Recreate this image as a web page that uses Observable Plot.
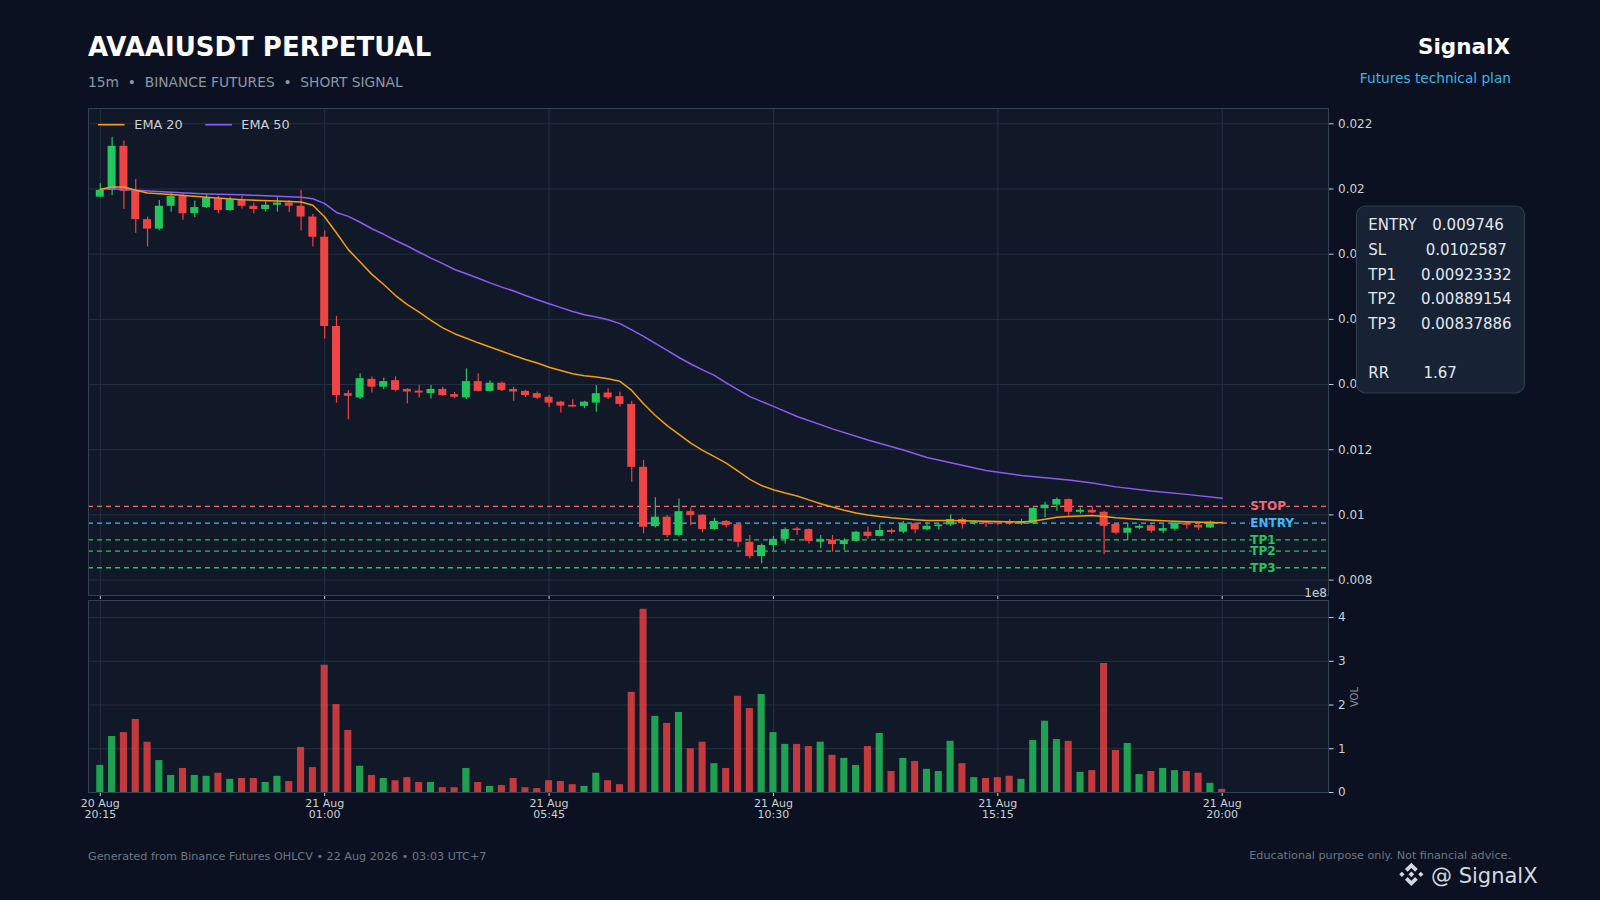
<!DOCTYPE html>
<html><head><meta charset="utf-8">
<script src="https://cdn.jsdelivr.net/npm/d3@7"></script>
<script src="https://cdn.jsdelivr.net/npm/@observablehq/plot@0.6"></script>
<style>
html,body{margin:0;padding:0;background:#0b1120;}
#root{position:relative;width:1600px;height:900px;overflow:hidden;background:#0b1120;font-family:"DejaVu Sans",sans-serif;}
#root > svg{position:absolute;left:0;}
</style></head><body><div id="root"></div>
<script>
// ---- data (15m candles, 20 Aug 20:15 -> 21 Aug 20:00) ----
const opens  = [0.01975,0.01996,0.02131,0.01993,0.01906,0.01877,0.01947,0.01977,0.01924,0.01943,
0.01970,0.01934,0.01967,0.01947,0.01937,0.01950,0.01957,0.01947,0.01914,0.01852,
0.01578,0.01372,0.01359,0.01416,0.01392,0.01412,0.01385,0.01380,0.01372,0.01385,
0.01369,0.01359,0.01409,0.01379,0.01404,0.01385,0.01379,0.01372,0.01361,0.01346,
0.01336,0.01333,0.01343,0.01374,0.01363,0.01339,0.01146,0.00964,0.00993,0.00937,
0.01010,0.00999,0.00955,0.00980,0.00970,0.00916,0.00872,0.00906,0.00925,0.00957,
0.00955,0.00916,0.00922,0.00909,0.00919,0.00947,0.00934,0.00952,0.00947,0.00973,
0.00954,0.00964,0.00969,0.00986,0.00973,0.00978,0.00976,0.00978,0.00972,0.00973,
0.01019,0.01030,0.01047,0.01008,0.01014,0.01008,0.00971,0.00944,0.00959,0.00967,
0.00950,0.00956,0.00975,0.00968,0.00960,0.00977];
const highs  = [0.02017,0.02159,0.02147,0.02029,0.01914,0.01965,0.01987,0.01985,0.01963,0.01983,
0.01977,0.01975,0.01977,0.01957,0.01960,0.01973,0.01965,0.01996,0.01922,0.01871,
0.01609,0.01382,0.01433,0.01423,0.01420,0.01424,0.01387,0.01397,0.01397,0.01392,
0.01376,0.01448,0.01433,0.01412,0.01408,0.01392,0.01382,0.01377,0.01366,0.01349,
0.01353,0.01349,0.01397,0.01387,0.01377,0.01349,0.01167,0.01053,0.00998,0.01049,
0.01021,0.01001,0.00990,0.00983,0.00973,0.00937,0.00911,0.00934,0.00960,0.00962,
0.00957,0.00937,0.00937,0.00927,0.00950,0.00964,0.00970,0.00957,0.00980,0.00976,
0.00976,0.00974,0.01000,0.00990,0.00983,0.00978,0.00980,0.00985,0.00987,0.01023,
0.01039,0.01052,0.01049,0.01021,0.01024,0.01011,0.00973,0.00974,0.00970,0.00970,
0.00970,0.00980,0.00978,0.00973,0.00981,0.00978];
const lows   = [0.01974,0.01980,0.01937,0.01864,0.01822,0.01872,0.01929,0.01904,0.01912,0.01940,
0.01924,0.01932,0.01939,0.01924,0.01929,0.01929,0.01928,0.01871,0.01822,0.01540,
0.01343,0.01292,0.01354,0.01374,0.01384,0.01377,0.01341,0.01359,0.01356,0.01363,
0.01357,0.01354,0.01377,0.01377,0.01379,0.01349,0.01360,0.01354,0.01329,0.01313,
0.01329,0.01326,0.01315,0.01354,0.01331,0.01100,0.00942,0.00960,0.00930,0.00932,
0.00967,0.00945,0.00953,0.00960,0.00899,0.00865,0.00850,0.00889,0.00911,0.00937,
0.00911,0.00897,0.00886,0.00891,0.00916,0.00925,0.00932,0.00940,0.00942,0.00942,
0.00951,0.00954,0.00965,0.00957,0.00968,0.00961,0.00968,0.00968,0.00968,0.00970,
0.00991,0.01011,0.00996,0.01002,0.01004,0.00878,0.00939,0.00922,0.00955,0.00944,
0.00942,0.00950,0.00957,0.00952,0.00958,0.00971];
const closes = [0.01996,0.02131,0.01993,0.01906,0.01877,0.01947,0.01977,0.01924,0.01943,0.01973,
0.01934,0.01967,0.01947,0.01937,0.01950,0.01957,0.01947,0.01914,0.01852,0.01578,
0.01366,0.01364,0.01418,0.01392,0.01409,0.01382,0.01377,0.01374,0.01385,0.01366,
0.01361,0.01409,0.01379,0.01404,0.01382,0.01377,0.01366,0.01358,0.01343,0.01334,
0.01331,0.01346,0.01372,0.01359,0.01339,0.01146,0.00962,0.00993,0.00937,0.01010,
0.00998,0.00955,0.00980,0.00967,0.00916,0.00872,0.00906,0.00925,0.00955,0.00952,
0.00919,0.00925,0.00909,0.00921,0.00947,0.00934,0.00952,0.00946,0.00973,0.00954,
0.00965,0.00969,0.00986,0.00973,0.00978,0.00973,0.00972,0.00972,0.00979,0.01020,
0.01030,0.01047,0.01008,0.01014,0.01006,0.00965,0.00944,0.00959,0.00965,0.00950,
0.00958,0.00975,0.00968,0.00960,0.00978,0.00974];
// volume in units of 1e8
const volumes = [0.62,1.28,1.37,1.67,1.15,0.73,0.39,0.55,0.39,0.37,
0.44,0.30,0.32,0.32,0.23,0.37,0.25,1.03,0.57,2.91,
2.01,1.42,0.60,0.39,0.32,0.27,0.34,0.23,0.23,0.11,
0.11,0.55,0.23,0.14,0.16,0.32,0.11,0.09,0.27,0.25,
0.18,0.14,0.44,0.27,0.18,2.29,4.19,1.74,1.58,1.83,
1.00,1.15,0.66,0.55,2.20,1.92,2.24,1.37,1.10,1.10,
1.05,1.15,0.85,0.78,0.62,1.05,1.35,0.48,0.78,0.71,
0.53,0.48,1.17,0.66,0.34,0.32,0.34,0.37,0.30,1.19,
1.63,1.21,1.17,0.46,0.50,2.95,0.96,1.12,0.41,0.48,
0.55,0.50,0.48,0.44,0.21,0.07];

const ema20Idx = [0,1,2,3,4,6,9,12,15,17,
18,19,20,21,22,23,24,25,26,27,28,29,30,31,32,33,34,35,36,37,38,39,40,41,42,43,44,45,46,47,48,49,50,51,52,53,54,55,56,57,58,59,60,61,62,63,64,65,66,67,68,69,70,
72,74,76,78,79,80,81,82,84,85,86,88,90,92,94,95];
const ema20Val = [0.01999,0.02006,0.02006,0.01996,0.01988,0.01983,0.01975,0.01967,0.01963,0.0196,
0.0195,0.01914,0.01865,0.01814,0.01776,0.01738,0.01707,0.01673,0.01645,0.01622,
0.01597,0.01574,0.01556,0.01542,0.01528,0.01515,0.01502,0.01489,0.01477,0.01466,
0.01453,0.01443,0.01433,0.01427,0.01423,0.01418,0.0141,0.01382,0.01341,0.01305,
0.01274,0.01247,0.0122,0.01198,0.01179,0.01159,0.01134,0.01109,0.0109,0.01077,
0.01067,0.01058,0.01046,0.01034,0.01024,0.01014,0.01006,0.01,0.00995,0.00991,
0.00988,0.00985,0.00983,
0.00983,0.00981,0.0098,0.00978,0.00981,0.00987,0.00993,0.00995,0.00998,0.00995,0.00991,0.00986,0.00982,0.00979,0.00977,0.00976];
const ema50Idx = [0,1,3,6,9,12,15,17,
18,19,20,21,22,23,24,25,26,27,28,29,30,31,32,33,34,35,36,37,38,39,40,41,42,43,44,45,46,47,48,49,50,51,52,53,
55,57,59,62,65,68,70,75,78,82,84,86,89,92,95];
const ema50Val = [0.01999,0.02001,0.01996,0.0199,0.01985,0.01982,0.01978,0.01975,
0.0197,0.01955,0.01928,0.01916,0.01898,0.01878,0.01861,0.01842,0.01825,0.01806,
0.01788,0.01771,0.01753,0.0174,0.01726,0.01712,0.01699,0.01687,0.01673,0.0166,
0.01648,0.01636,0.01624,0.01614,0.01607,0.01599,0.01587,0.01568,0.01548,0.01526,
0.01505,0.01483,0.01463,0.01445,0.01428,0.01405,
0.01363,0.01333,0.01302,0.01264,0.0123,0.01199,0.01176,0.01136,0.01121,0.01107,0.01098,0.01086,0.01073,0.01063,0.01051];

const tickIdx = [0,19,38,57,76,95];
const tickLabels = ["20 Aug\n20:15","21 Aug\n01:00","21 Aug\n05:45","21 Aug\n10:30","21 Aug\n15:15","21 Aug\n20:00"];
const priceTicks = [0.008,0.010,0.012,0.014,0.016,0.018,0.020,0.022];
const volTicks = [0,1,2,3,4];

const levelNames  = ["STOP","ENTRY","TP1","TP2","TP3"];
const levelValues = [0.0102587,0.009746,0.00923332,0.00889154,0.00837886];
const levelColors = ["#f2697a","#38bdf8","#22c55e","#22c55e","#22c55e"];
const boxLabels = ["ENTRY","SL","TP1","TP2","TP3","RR"];
const boxValues = ["0.009746","0.0102587","0.00923332","0.00889154","0.00837886","1.67"];

// ---- build ----
const UP = "#22c55e", DOWN = "#ef4444";
const candles = opens.map((o,i)=>({i, open:o, high:highs[i], low:lows[i], close:closes[i], vol:volumes[i], col: closes[i] >= o ? UP : DOWN}));
const ema20 = ema20Idx.map((i,k)=>({i, v:ema20Val[k]}));
const ema50 = ema50Idx.map((i,k)=>({i, v:ema50Val[k]}));
const levels = levelNames.map((n,k)=>({name:n, value:levelValues[k], color:levelColors[k]}));

const GRID = "#243043", FRAME = "#334155", TXT = "#c9d1d9", AXBG = "#111827";
const xDom = [-1, 104];
const baseStyle = {background:"transparent", color:TXT, fontFamily:"DejaVu Sans", fontSize:"12px", overflow:"visible"};
const half = 0.34;

const pricePlot = Plot.plot({
  width:1600, height:600, marginLeft:88, marginRight:272, marginTop:108, marginBottom:5,
  style: baseStyle,
  color: {type:"identity"},
  x: {domain:xDom, axis:null},
  y: {domain:[0.007527,0.02247], axis:null},
  marks: [
    Plot.frame({fill:AXBG, stroke:null}),
    Plot.gridX(tickIdx, {stroke:GRID, strokeOpacity:1}),
    Plot.gridY(priceTicks, {stroke:GRID, strokeOpacity:1}),
    Plot.ruleY(levels, {y:"value", stroke:"color", strokeWidth:1.3, strokeDasharray:"5,4"}),
    Plot.ruleX(candles, {x:"i", y1:"low", y2:"high", stroke:"col", strokeWidth:1.2}),
    Plot.rect(candles, {x1:d=>d.i-half, x2:d=>d.i+half, y1:"open", y2:"close", fill:"col"}),
    Plot.line(ema50, {x:"i", y:"v", stroke:"#8b5cf6", strokeWidth:1.5}),
    Plot.line(ema20, {x:"i", y:"v", stroke:"#f59e0b", strokeWidth:1.5}),
    Plot.text(levels, {x:()=>candles.length-1, y:"value", text:"name", dx:28, textAnchor:"start", fill:"color",
      stroke:AXBG, strokeWidth:3, paintOrder:"stroke", fontWeight:"bold", fontSize:12}),
    Plot.axisY(priceTicks, {anchor:"right", tickSize:4.5, tickPadding:5, color:TXT, fontSize:12, label:null,
      tickFormat: d => d.toFixed(3).replace(/0+$/,"")}),
    Plot.axisX(tickIdx, {anchor:"bottom", tickSize:4, tickFormat:()=>"", color:TXT, label:null}),
    Plot.frame({stroke:FRAME, strokeWidth:1})
  ]
});
pricePlot.style.top = "0px";
document.getElementById("root").appendChild(pricePlot);

const volPlot = Plot.plot({
  width:1600, height:233, marginLeft:88, marginRight:272, marginTop:1, marginBottom:40,
  style: baseStyle,
  color: {type:"identity"},
  x: {domain:xDom, axis:null},
  y: {domain:[0,4.39], axis:null},
  marks: [
    Plot.frame({fill:AXBG, stroke:null}),
    Plot.gridX(tickIdx, {stroke:GRID, strokeOpacity:1}),
    Plot.gridY(volTicks, {stroke:GRID, strokeOpacity:1}),
    Plot.rect(candles, {x1:d=>d.i-0.3, x2:d=>d.i+0.3, y1:()=>0, y2:"vol", fill:"col", fillOpacity:0.8}),
    Plot.axisY(volTicks, {anchor:"right", tickSize:4.5, tickPadding:5, color:TXT, fontSize:12, label:null}),
    Plot.axisX(tickIdx, {anchor:"bottom", tickSize:4, tickPadding:3, color:TXT, fontSize:11, label:null,
      tickFormat: i => tickLabels[tickIdx.indexOf(i)]}),
    Plot.frame({stroke:FRAME, strokeWidth:1})
  ]
});
volPlot.style.top = "599px";
document.getElementById("root").appendChild(volPlot);

// ---- overlay texts ----
const svg = d3.select("#root").append("svg").attr("width",1600).attr("height",900)
  .style("top","0px").style("pointer-events","none").attr("font-family","DejaVu Sans");

function txt(x,y,s,opt={}) {
  const t = svg.append("text").attr("x",x).attr("y",y).text(s)
    .attr("font-size",opt.size||12).attr("fill",opt.fill||TXT)
    .attr("text-anchor",opt.anchor||"start");
  if (opt.weight) t.attr("font-weight",opt.weight);
  if (opt.transform) t.attr("transform",opt.transform);
  return t;
}
txt(88,56,"AVAAIUSDT PERPETUAL",{size:26,weight:"bold",fill:"#ffffff"});
txt(88,86.5,"15m  •  BINANCE FUTURES  •  SHORT SIGNAL",{size:13.8,fill:"#8b97a8"}).attr("xml:space","preserve").style("white-space","pre");
txt(1510,54,"SignalX",{size:21.5,weight:"bold",fill:"#ffffff",anchor:"end"});
txt(1511,82.5,"Futures technical plan",{size:13.7,fill:"#38b6e6",anchor:"end"});

// legend
svg.append("line").attr("x1",98).attr("x2",124.5).attr("y1",124.7).attr("y2",124.7).attr("stroke","#f59e0b").attr("stroke-width",1.6);
txt(134.3,129.3,"EMA 20",{size:12.8});
svg.append("line").attr("x1",205.3).attr("x2",232).attr("y1",124.7).attr("y2",124.7).attr("stroke","#8b5cf6").attr("stroke-width",1.6);
txt(241.3,129.3,"EMA 50",{size:12.8});

// offset & axis label
txt(1327,596.5,"1e8",{size:12,anchor:"end"});
txt(1358,697,"VOL",{size:10,fill:"#8b949e",anchor:"middle",transform:"rotate(-90 1358 697)"});

// info box
svg.append("rect").attr("x",1356.5).attr("y",206).attr("width",168).attr("height",187).attr("rx",9)
  .attr("fill","#172235").attr("stroke","#2e3b50").attr("stroke-width",1.2);
const boxBase = [230,255,280,304.3,329,377.7];
const boxValX = [1432.3,1425.7,1421,1421,1421,1423.5];
boxLabels.forEach((l,k)=>{
  txt(1368.3,boxBase[k],l,{size:15,fill:"#e2e8f0"});
  txt(boxValX[k],boxBase[k],boxValues[k],{size:15,fill:"#e2e8f0"});
});

// footer
txt(88,860,"Generated from Binance Futures OHLCV • 22 Aug 2026 • 03:03 UTC+7",{size:11.2,fill:"#6b7686"});
txt(1511,859.3,"Educational purpose only. Not financial advice.",{size:11.2,fill:"#6b7686",anchor:"end"});

// brand logo
const g = svg.append("g").attr("transform","translate(1397.5,860.5) scale(0.22)").attr("fill","#d3d9e1");
g.append("path").attr("d","M63 10 L92 39 L80 51 L63 34 L46 51 L34 39 Z");
g.append("path").attr("d","M63 116 L92 87 L80 75 L63 92 L46 75 L34 87 Z");
g.append("path").attr("d","M63 50 L76 63 L63 76 L50 63 Z");
g.append("path").attr("d","M20 51 L32 63 L20 75 L8 63 Z");
g.append("path").attr("d","M106 51 L118 63 L106 75 L94 63 Z");
txt(1431,882.7,"@ SignalX",{size:21,fill:"#d3d9e1"});
</script></body></html>
